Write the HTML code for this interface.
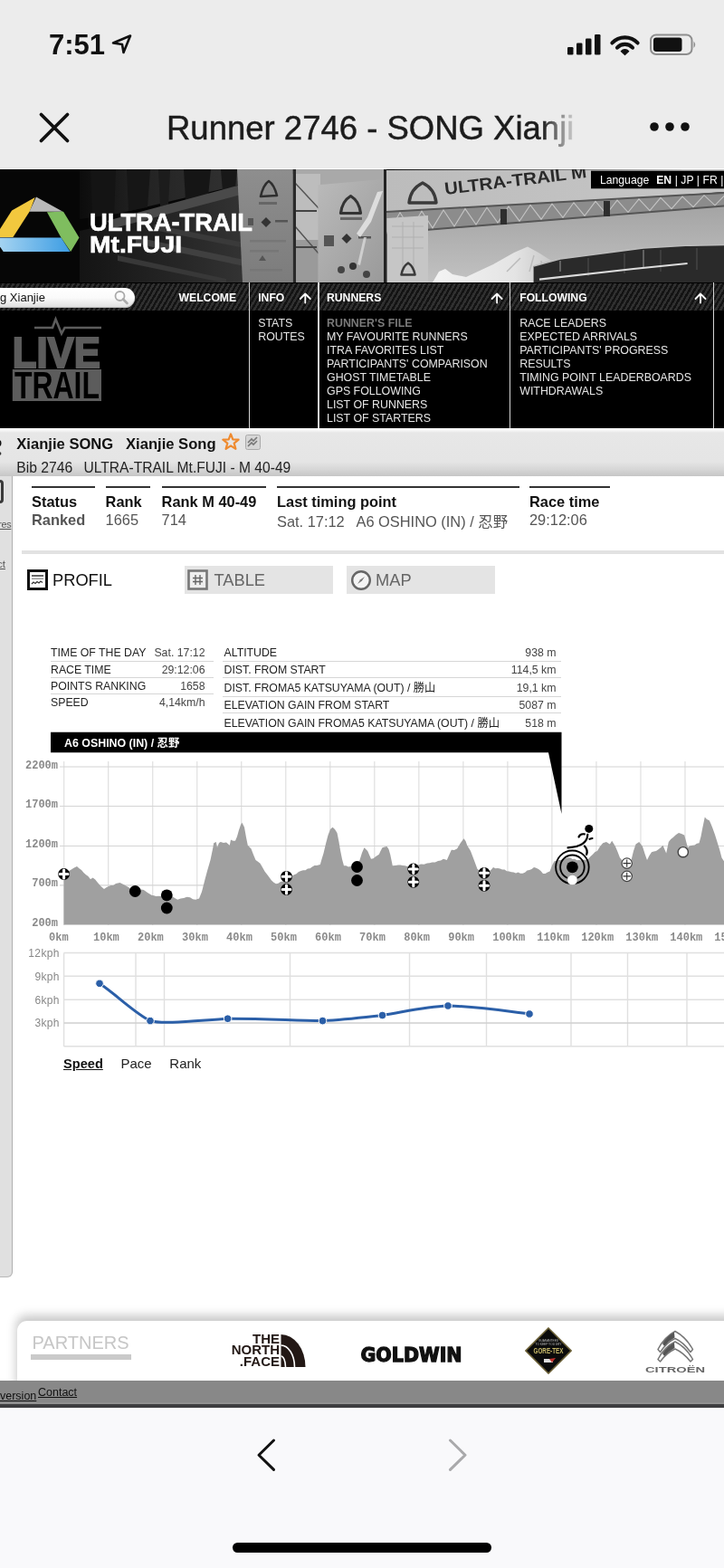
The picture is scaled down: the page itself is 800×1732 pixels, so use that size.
<!DOCTYPE html>
<html><head><meta charset="utf-8">
<style>
*{box-sizing:border-box}
html,body{margin:0;padding:0}
body{width:800px;height:1732px;overflow:hidden;position:relative;background:#ececec;font-family:"Liberation Sans",Arial,"Noto Sans CJK JP",sans-serif;color:#000}
.a{position:absolute;white-space:nowrap}
/* status bar */
#time{left:54px;top:32px;font-size:31px;font-weight:bold;letter-spacing:0px;color:#111}
#title{left:184px;top:121px;font-size:36.5px;color:#1c1c1c;-webkit-text-stroke:0.45px #1c1c1c;-webkit-mask-image:linear-gradient(90deg,#000 0,#000 415px,rgba(0,0,0,.25) 445px,rgba(0,0,0,0) 460px)}
/* web */
#web{position:absolute;left:0;top:187px;width:800px;height:1368px;background:#fff;overflow:hidden}
</style></head>
<body>
<!-- STATUS BAR -->
<div class="a" id="time">7:51</div>
<svg class="a" style="left:122px;top:36px" width="26" height="26" viewBox="0 0 26 26"><path d="M3 11.5 L22 3.5 L14.5 22 L13 13 Z" fill="none" stroke="#111" stroke-width="2.6" stroke-linejoin="round"/></svg>
<svg class="a" style="left:620px;top:30px" width="160" height="36" viewBox="620 30 160 36">
  <rect x="627" y="52" width="6.5" height="8.5" rx="1.3" fill="#111"/>
  <rect x="637" y="47.5" width="6.5" height="13" rx="1.3" fill="#111"/>
  <rect x="647" y="42.5" width="6.5" height="18" rx="1.3" fill="#111"/>
  <rect x="657" y="38" width="6.5" height="22.5" rx="1.3" fill="#111"/>
  <g fill="none" stroke="#111" stroke-width="4.2" stroke-linecap="round">
    <path d="M676.46 47.41 A19.2 19.2 0 0 1 704.54 47.41"/>
    <path d="M682.02 52.59 A11.6 11.6 0 0 1 698.98 52.59"/>
  </g>
  <path d="M690.5 60.5 L686.26 56.54 A5.8 5.8 0 0 1 694.74 56.54 Z" fill="#111" stroke="#111" stroke-width="1.2" stroke-linejoin="round"/>
  <rect x="719" y="38.5" width="45.5" height="21.5" rx="6" fill="none" stroke="#8e8e8e" stroke-width="2"/>
  <rect x="722" y="41.5" width="31.5" height="15.5" rx="3" fill="#111"/>
  <path d="M766.5 45.5 Q770 49.25 766.5 53 Z" fill="#8e8e8e"/>
</svg>
<!-- NAV -->
<svg class="a" style="left:40px;top:121px" width="40" height="40" viewBox="40 121 40 40"><path d="M45.5 126.5 L74.5 155.5 M74.5 126.5 L45.5 155.5" stroke="#111" stroke-width="3.8" stroke-linecap="round"/></svg>
<div class="a" id="title">Runner 2746 - SONG Xianji</div>
<svg class="a" style="left:710px;top:130px" width="60" height="20" viewBox="710 130 60 20"><circle cx="723" cy="140" r="4.8" fill="#111"/><circle cx="740" cy="140" r="4.8" fill="#111"/><circle cx="757" cy="140" r="4.8" fill="#111"/></svg>

<!-- WEB CONTENT BG -->
<div class="a" style="left:0;top:185.5px;width:800px;height:1368px;background:#fff"></div>
<!-- BANNER -->
<svg class="a" style="left:0;top:187px" width="800" height="126" viewBox="0 187 800 126">
  <defs>
    <linearGradient id="sky" x1="0" y1="0" x2="0" y2="1"><stop offset="0" stop-color="#a2a2a2"/><stop offset="1" stop-color="#c2c2c2"/></linearGradient>
    <linearGradient id="flag1" x1="0" y1="0" x2="0" y2="1"><stop offset="0" stop-color="#8e8e8e"/><stop offset="0.5" stop-color="#858585"/><stop offset="1" stop-color="#7c7c7c"/></linearGradient>
    <linearGradient id="flag2" x1="0" y1="0" x2="1" y2="1"><stop offset="0" stop-color="#bababa"/><stop offset="1" stop-color="#9a9a9a"/></linearGradient>
    <linearGradient id="arch" x1="0" y1="0" x2="1" y2="0"><stop offset="0" stop-color="#bcbcbc"/><stop offset="1" stop-color="#c6c6c6"/></linearGradient>
    <linearGradient id="skyL" x1="0" y1="0" x2="1" y2="0"><stop offset="0" stop-color="#0c0c0c"/><stop offset="0.35" stop-color="#222"/><stop offset="1" stop-color="#333"/></linearGradient>
    <linearGradient id="tent" x1="0" y1="0" x2="1" y2="0"><stop offset="0" stop-color="#141414"/><stop offset="0.6" stop-color="#262626"/><stop offset="1" stop-color="#333"/></linearGradient>
    <linearGradient id="fuji" x1="0" y1="0" x2="1" y2="0"><stop offset="0" stop-color="#f4f4f4"/><stop offset="0.65" stop-color="#e4e4e4"/><stop offset="1" stop-color="#c4c4c4"/></linearGradient>
    <linearGradient id="logoBlue" x1="0" y1="0" x2="1" y2="0"><stop offset="0" stop-color="#a4d3f1"/><stop offset="1" stop-color="#3d9de3"/></linearGradient>
  </defs>
  <rect x="0" y="187" width="800" height="126" fill="#060606"/>
  <!-- trees / dark textures -->
  <path d="M88 187 L270 187 L270 203 L130 236 L88 242 Z" fill="url(#skyL)"/>
  <path d="M100 187 L128 187 L126 236 L102 240 Z" fill="#141414"/>
  <path d="M140 187 L166 187 L163 229 L142 233 Z" fill="#161616"/>
  <path d="M203 187 L233 187 L230 216 L205 221 Z" fill="#151515"/>
  <path d="M244 187 L262 187 L260 208 L246 211 Z" fill="#181818"/>
  <path d="M175 187 L188 187 L186 226 L177 228 Z" fill="#1c1c1c"/>
  <!-- tent structure -->
  <path d="M88 312 L88 255 L130 246 L270 213 L270 312 Z" fill="url(#tent)"/>
  <path d="M118 244 L270 203 L270 214 L126 252 Z" fill="#4a4a4a"/>
  <path d="M150 262 L270 287 L270 294 L150 269 Z" fill="#404040"/>
  <path d="M170 248 L270 268 L270 274 L170 254 Z" fill="#3a3a3a"/>
  <path d="M130 282 L250 308 L250 313 L130 288 Z" fill="#383838"/>
  <!-- scaffold between flag1 and flag2 -->
  <rect x="322" y="187" width="105" height="30" fill="#a9a9a9"/><rect x="322" y="192" width="32" height="120" fill="#bdbdbd"/><rect x="326" y="265" width="26" height="47" fill="#9a9a9a"/>
  <path d="M326 202 L352 230 M326 250 L352 280" stroke="#555" stroke-width="1.5"/>
  <rect x="326" y="232" width="24" height="2" fill="#444"/><rect x="326" y="272" width="24" height="2" fill="#444"/>
  <!-- flag 1 -->
  <path d="M262 187 L323 187 L323 312 L268 312 Z" fill="url(#flag1)"/>
  <path d="M297 200 Q303 204 306 216 L288 217 Q291 204 297 200 Z" fill="none" stroke="#2e2e2e" stroke-width="2.6" stroke-linejoin="round"/>
  <rect x="286" y="223" width="20" height="3" fill="#666"/>
  <path d="M294 240 l5.5 5.5 l-5.5 5.5 l-5.5 -5.5 Z" fill="#333"/>
  <rect x="274" y="241" width="6" height="8" fill="#555"/>
  <rect x="304" y="243" width="14" height="2.5" fill="#555"/>
  <rect x="276" y="265" width="40" height="2.5" fill="#777"/>
  <rect x="276" y="276" width="32" height="2.5" fill="#777"/>
  <path d="M286 288 l4 -6 l4 6 Z" fill="#555"/>
  <rect x="276" y="297" width="36" height="2.5" fill="#777"/>
  <!-- pole 1 -->
  <rect x="323.5" y="187" width="3.5" height="126" fill="#2a2a2a"/>
  <!-- flag 2 -->
  <path d="M351.4 204.3 L424 198 L424 312 L351.4 312 Z" fill="url(#flag2)"/>
  <path d="M376.5 235.5 Q378.0 222.2 387.5 216.5 Q397.0 222.2 398.5 235.5 Z" fill="none" stroke="#333" stroke-width="3.2" stroke-linejoin="round"/>
  <rect x="376" y="240" width="24" height="3" fill="#666"/>
  <path d="M383 258 l5.5 5.5 l-5.5 5.5 l-5.5 -5.5 Z" fill="#333"/>
  <rect x="358" y="260" width="11" height="12" fill="#555"/>
  <rect x="396" y="261" width="14" height="2.5" fill="#555"/>
  <circle cx="377" cy="298" r="4" fill="#444"/><circle cx="390" cy="294" r="4" fill="#333"/><circle cx="405" cy="303" r="4" fill="#444"/>
  <path d="M417 212 L423 211 L410 245 L398 262 L394 258 L406 240 Z" fill="#e6e6e6" opacity="0.85"/>
  <path d="M395 292 L402 262 L405 262 L398 293 Z" fill="#dedede" opacity="0.75"/>
  <!-- pole 2 -->
  <rect x="424" y="187" width="3.5" height="126" fill="#222"/>
  <!-- sky -->
  <path d="M470 250 L800 222 L800 312 L470 312 Z" fill="url(#sky)"/>
  <!-- arch banner -->
  <path d="M427 188 L800 187 L800 212 L427 240 Z" fill="url(#arch)"/>
  <text x="492" y="215" transform="rotate(-6.9 492 215)" font-family="Liberation Sans" font-weight="bold" font-size="19" fill="#2a2a2a" textLength="158" lengthAdjust="spacingAndGlyphs">ULTRA-TRAIL M</text>
  <path d="M452.0 224.0 Q453.5 208.6 467.0 202.0 Q480.5 208.6 482.0 224.0 Z" fill="none" stroke="#3a3a3a" stroke-width="3.4" stroke-linejoin="round"/>
  <!-- truss -->
  <path d="M427 233.5 L800 212.5 L800 228 L427 258 Z" fill="#8c8c8c"/>
  <path d="M427 234 L800 213 M427 257.5 L800 227.5" stroke="#555" stroke-width="2"/>
  <path d="M430.0 255.8 L442.0 234.7 L454.0 253.8 L466.0 233.3 L478.0 251.9 L490.0 232.0 L502.0 250.0 L514.0 230.6 L526.0 248.0 L538.0 229.3 L550.0 246.1 L562.0 227.9 L574.0 244.2 L586.0 226.5 L598.0 242.2 L610.0 225.2 L622.0 240.3 L634.0 223.8 L646.0 238.4 L658.0 222.5 L670.0 236.5 L682.0 221.1 L694.0 234.5 L706.0 219.8 L718.0 232.6 L730.0 218.4 L742.0 230.7 L754.0 217.1 L766.0 228.7 L778.0 215.7 L790.0 226.8 L802.0 214.4" fill="none" stroke="#c4c4c4" stroke-width="1.1"/>
  <rect x="553" y="231" width="7" height="17" fill="#2e2e2e"/>
  <rect x="667" y="222" width="7" height="17" fill="#2e2e2e"/>
  <!-- flag 3 -->
  <path d="M427.5 241 L473 238 L473 312 L427.5 312 Z" fill="#c6c6c6"/>
  <path d="M433 250 L468 250 M433 262 L468 262 M433 274 L468 274 M445 245 L445 300 M457 245 L457 300" stroke="#b0b0b0" stroke-width="1"/>
  <path d="M443.5 303.5 Q445.0 294.4 451.0 290.5 Q457.0 294.4 458.5 303.5 Z" fill="none" stroke="#3a3a3a" stroke-width="2.6" stroke-linejoin="round"/>
  <!-- Fuji -->
  <path d="M478 312 L485 300 L492 297 L500 303 L515 306 L545 292 L568 279 L583 272.6 L595 279 L606 286 L617 291.7 L617 312 Z" fill="url(#fuji)"/>
  <path d="M560 300 L575 285 M585 300 L590 282 M600 300 L598 288" stroke="#bbb" stroke-width="1.5"/>
  <!-- building -->
  <path d="M589.6 294 L619 286 L711 274 L757.5 271.3 L800 270.5 L800 313 L589.6 313 Z" fill="#2a2a2a"/>
  <path d="M589.6 294 L619 286 L711 274 L757.5 271.3 L800 270.5" stroke="#bdbdbd" stroke-width="1.4" fill="none"/><path d="M619 288 L619 300 M711 276 L711 296" stroke="#888" stroke-width="1.2"/>
  <path d="M650 285 V305 M690 280 V302 M730 276 V300 M770 274 V298" stroke="#444" stroke-width="1.5"/>
  <path d="M596 308.7 L700 297 L759.6 291" stroke="#dcdcdc" stroke-width="2.2" fill="none"/>
  <!-- logo -->
  <path d="M38.7 218.1 L13.1 232.5 L0 253.1 L0 262 L14.4 262 L33.1 233.1 Z" fill="#f2c83e"/>
  <path d="M40 217.5 L69.4 233.8 L32.5 233.8 Z" fill="#b9b9b9"/>
  <path d="M51.9 234.2 L70 233.8 L87.5 262.5 L78.1 278.1 L67.5 262.5 Z" fill="#7fbd5f"/>
  <path d="M0 262.5 L67.5 262.5 L77.5 278.1 L3.7 278.1 L0 272.5 Z" fill="url(#logoBlue)"/>
  <text x="99" y="254.5" font-family="Liberation Sans" font-weight="bold" font-size="28.5" fill="#fff" stroke="#fff" stroke-width="0.6" textLength="180" lengthAdjust="spacingAndGlyphs">ULTRA-TRAIL</text>
  <text x="99" y="278.7" font-family="Liberation Sans" font-weight="bold" font-size="26.5" fill="#fff" stroke="#fff" stroke-width="0.6" textLength="102" lengthAdjust="spacingAndGlyphs">Mt.FUJI</text>
  <!-- language -->
  <rect x="653" y="188.7" width="147" height="19.6" fill="#000"/>
  <text x="663" y="203" font-family="Liberation Sans" font-size="12.2" fill="#fff" word-spacing="0.1">Language <tspan font-weight="bold" dx="4.5">EN</tspan> | JP | FR |</text>
</svg>
<!-- MENU -->
<div class="a" style="left:0;top:312px;width:800px;height:161px;background:#000"></div>
<div class="a" style="left:0;top:313px;width:800px;height:30px;background:repeating-linear-gradient(-60deg,#131313 0,#131313 2.4px,#303030 2.4px,#303030 4.8px)"></div>
<div class="a" style="left:-20px;top:318px;width:169px;height:22px;border-radius:11px;background:linear-gradient(#fff 0,#fafafa 50%,#dedede 100%);box-shadow:inset 0 -1px 1px #bbb"></div>
<div class="a" style="left:0;top:321px;font-size:13px;color:#111">g Xianjie</div>
<svg class="a" style="left:124px;top:319px" width="22" height="20" viewBox="0 0 22 20"><circle cx="8.5" cy="8" r="5" fill="none" stroke="#aaa" stroke-width="1.8"/><path d="M12 11.5 L16.5 16" stroke="#aaa" stroke-width="2.6" stroke-linecap="round"/></svg>
<div class="a" style="left:197.5px;top:321.5px;font-size:12.2px;font-weight:bold;color:#fff">WELCOME</div>
<!-- separators -->
<div class="a" style="left:275px;top:312px;width:1.4px;height:161px;background:#d6d6d6"></div>
<div class="a" style="left:351.2px;top:312px;width:1.4px;height:161px;background:#d6d6d6"></div>
<div class="a" style="left:563px;top:312px;width:1.4px;height:161px;background:#d6d6d6"></div>
<div class="a" style="left:788px;top:312px;width:1.4px;height:161px;background:#d6d6d6"></div>
<!-- headers -->
<div class="a" style="left:285.2px;top:321.5px;font-size:12.2px;font-weight:bold;color:#fff">INFO</div>
<div class="a" style="left:361px;top:321.5px;font-size:12.2px;font-weight:bold;color:#fff">RUNNERS</div>
<div class="a" style="left:574.2px;top:321.5px;font-size:12.2px;font-weight:bold;color:#fff">FOLLOWING</div>
<svg class="a" style="left:0;top:312px" width="800" height="30" viewBox="0 312 800 30">
  <g fill="none" stroke="#fff" stroke-width="1.8" stroke-linecap="round" stroke-linejoin="round">
    <path d="M337.3 334.5 V324.5 M331.8 330 L337.3 324.5 L342.8 330"/>
    <path d="M549.1 334.5 V324.5 M543.6 330 L549.1 324.5 L554.6 330"/>
    <path d="M774 334.5 V324.5 M768.5 330 L774 324.5 L779.5 330"/>
  </g>
</svg>
<!-- lists -->
<div class="a" style="left:285.2px;top:349.5px;font-size:12.4px;line-height:15px;color:#e6e6e6">STATS<br>ROUTES</div>
<div class="a" style="left:361px;top:349.5px;font-size:12.4px;line-height:15px;color:#e6e6e6"><b style="color:#7a7a7a">RUNNER'S FILE</b><br>MY FAVOURITE RUNNERS<br>ITRA FAVORITES LIST<br>PARTICIPANTS' COMPARISON<br>GHOST TIMETABLE<br>GPS FOLLOWING<br>LIST OF RUNNERS<br>LIST OF STARTERS</div>
<div class="a" style="left:574.2px;top:349.5px;font-size:12.4px;line-height:15px;color:#e6e6e6">RACE LEADERS<br>EXPECTED ARRIVALS<br>PARTICIPANTS' PROGRESS<br>RESULTS<br>TIMING POINT LEADERBOARDS<br>WITHDRAWALS</div>
<!-- LIVE TRAIL logo -->
<svg class="a" style="left:0;top:345px" width="130" height="110" viewBox="0 345 130 110">
  <path d="M38 362 H58 L61.5 352.5 L68 368.5 L71.5 362 H112" fill="none" stroke="#5c5c5c" stroke-width="2.6"/>
  <text x="13.8" y="405.8" font-family="Liberation Sans" font-weight="bold" font-size="48" fill="#5c5c5c" stroke="#5c5c5c" stroke-width="2.2" textLength="97" lengthAdjust="spacingAndGlyphs">LIVE</text>
  <rect x="13.8" y="408" width="98.2" height="35" fill="#5c5c5c"/>
  <text x="16" y="440" font-family="Liberation Sans" font-weight="bold" font-size="42" fill="#000" textLength="94" lengthAdjust="spacingAndGlyphs">TRAIL</text>
</svg>
<!-- RUNNER HEADER -->
<div class="a" style="left:0;top:473px;width:800px;height:53px;background:linear-gradient(#fff 0,#fafafa 2px,#e7e7e7 5px,#e5e5e5 70%,#d6d6d6 86%,#c6c6c6 100%)"></div>
<svg class="a" style="left:0;top:480px" width="6" height="26" viewBox="0 480 6 26"><ellipse cx="-0.3" cy="489.5" rx="1.8" ry="3.2" fill="#111"/><circle cx="-0.5" cy="501" r="1.9" fill="#333"/></svg>
<div class="a" style="left:18.3px;top:480.5px;font-size:16.6px;font-weight:bold;color:#111">Xianjie SONG</div>
<div class="a" style="left:139px;top:480.5px;font-size:16.6px;font-weight:bold;color:#111">Xianjie Song</div>
<svg class="a" style="left:244px;top:477px" width="22" height="22" viewBox="0 0 22 22"><path d="M11 2.5 L13.3 8.4 L19.6 8.7 L14.7 12.6 L16.4 18.8 L11 15.3 L5.6 18.8 L7.3 12.6 L2.4 8.7 L8.7 8.4 Z" fill="none" stroke="#ef8a2e" stroke-width="2.2" stroke-linejoin="round"/></svg>
<svg class="a" style="left:271px;top:480px" width="17" height="17" viewBox="0 0 17 17"><rect x="0.5" y="0.5" width="16" height="16" rx="2" fill="#d6d6d6" stroke="#aaa"/><path d="M3 9 l4 -4 l2 2 l4 -4 M3 13 l4 -4 l2 2 l4 -4" stroke="#777" stroke-width="1.6" fill="none"/></svg>
<div class="a" style="left:18.3px;top:507.8px;font-size:15.7px;color:#222">Bib 2746</div>
<div class="a" style="left:92.5px;top:507.8px;font-size:15.6px;color:#222">ULTRA-TRAIL Mt.FUJI - M 40-49</div>
<!-- left sidebar strip -->
<div class="a" style="left:0;top:526px;width:14.2px;height:885px;background:#e0e0e0;border-right:1.6px solid #b0b0b0;border-bottom-right-radius:6px;border-bottom:1.6px solid #b8b8b8"></div>
<div class="a" style="left:-8px;top:529.7px;width:11.5px;height:26px;border:3px solid #3a3a3a;border-radius:4px"></div>
<div class="a" style="left:-1.8px;top:572.5px;font-size:10.8px;letter-spacing:-0.3px;color:#555;text-decoration:underline">res</div>
<div class="a" style="left:-3px;top:616.7px;font-size:11.5px;color:#555;text-decoration:underline">ct</div>
<!-- STATS -->
<div class="a" style="left:35px;top:537px;width:69.5px;height:2.2px;background:#333"></div>
<div class="a" style="left:116.6px;top:537px;width:49.5px;height:2.2px;background:#333"></div>
<div class="a" style="left:178.6px;top:537px;width:115px;height:2.2px;background:#333"></div>
<div class="a" style="left:306px;top:537px;width:268px;height:2.2px;background:#333"></div>
<div class="a" style="left:585px;top:537px;width:89px;height:2.2px;background:#333"></div>
<div class="a" style="left:35px;top:545.3px;font-size:16.4px;line-height:19px;font-weight:bold;color:#111">Status</div>
<div class="a" style="left:35px;top:565.3px;font-size:16.4px;line-height:19px;font-weight:bold;color:#555">Ranked</div>
<div class="a" style="left:116.6px;top:545.3px;font-size:16.4px;line-height:19px;font-weight:bold;color:#111">Rank</div>
<div class="a" style="left:116.6px;top:565.3px;font-size:16.4px;line-height:19px;color:#555">1665</div>
<div class="a" style="left:178.6px;top:545.3px;font-size:16.4px;line-height:19px;font-weight:bold;color:#111">Rank M 40-49</div>
<div class="a" style="left:178.6px;top:565.3px;font-size:16.4px;line-height:19px;color:#555">714</div>
<div class="a" style="left:306px;top:545.3px;font-size:16.4px;line-height:19px;font-weight:bold;color:#111">Last timing point</div>
<div class="a" style="left:306px;top:567.3px;font-size:16.4px;line-height:19px;color:#555">Sat. 17:12 &nbsp; A6 OSHINO (IN) / 忍野</div>
<div class="a" style="left:585px;top:545.3px;font-size:16.4px;line-height:19px;font-weight:bold;color:#111">Race time</div>
<div class="a" style="left:585px;top:565.3px;font-size:16.4px;line-height:19px;color:#555">29:12:06</div>
<div class="a" style="left:24px;top:607.5px;width:776px;height:4.5px;background:#e2e2e2"></div>
<!-- TABS -->
<svg class="a" style="left:30px;top:628.5px" width="23" height="23" viewBox="0 0 23 23"><rect x="1.5" y="1.5" width="20" height="20" fill="#fff" stroke="#111" stroke-width="3"/><rect x="5" y="6" width="13" height="2" fill="#666"/><rect x="5" y="9.5" width="13" height="1.5" fill="#999"/><path d="M5 16 l2 -2 l2 1.5 l2 -2 l2 1.5 l2 -2 l2 1.5" stroke="#333" stroke-width="1.3" fill="none"/></svg>
<div class="a" style="left:58px;top:630px;font-size:18.3px;color:#111">PROFIL</div>
<div class="a" style="left:203.7px;top:624.7px;width:164px;height:31.3px;background:#e4e4e4"></div>
<svg class="a" style="left:207px;top:629px" width="23" height="23" viewBox="0 0 23 23"><rect x="1.5" y="1.5" width="20" height="20" fill="#eee" stroke="#777" stroke-width="2.6"/><path d="M9 6 V17 M14 6 V17 M6 9.5 H17 M6 13.5 H17" stroke="#666" stroke-width="1.4"/></svg>
<div class="a" style="left:236.5px;top:630px;font-size:18.3px;color:#666">TABLE</div>
<div class="a" style="left:382.5px;top:624.7px;width:164.5px;height:31.3px;background:#e4e4e4"></div>
<svg class="a" style="left:386.5px;top:629px" width="24" height="24" viewBox="0 0 24 24"><circle cx="12" cy="12" r="9.8" fill="#f4f4f4" stroke="#666" stroke-width="2.4"/><path d="M16 8 L12.8 12.8 L8 16 L11.2 11.2 Z" fill="#777"/></svg>
<div class="a" style="left:415px;top:630px;font-size:18.3px;color:#666">MAP</div>
<!-- DATA TABLE -->
<div class="a" style="left:56px;top:712px;width:180px;font-size:12.3px;color:#222;line-height:18px">
 <div style="display:flex;justify-content:space-between;padding-right:9.5px;border-bottom:1.5px solid #d6d6d6;height:19px">TIME OF THE DAY<span style="color:#444">Sat. 17:12</span></div>
 <div style="display:flex;justify-content:space-between;padding-right:9.5px;border-bottom:1.5px solid #d6d6d6;height:18px">RACE TIME<span style="color:#444">29:12:06</span></div>
 <div style="display:flex;justify-content:space-between;padding-right:9.5px;border-bottom:1.5px solid #d6d6d6;height:18px">POINTS RANKING<span style="color:#444">1658</span></div>
 <div style="display:flex;justify-content:space-between;padding-right:9.5px;height:18px">SPEED<span style="color:#444">4,14km/h</span></div>
</div>
<div class="a" style="left:246px;top:712px;width:374px;font-size:12.3px;color:#222;line-height:18px">
 <div style="display:flex;justify-content:space-between;padding:0 5.5px 0 1.5px;border-bottom:1.5px solid #d6d6d6;height:19px">ALTITUDE<span style="color:#444">938 m</span></div>
 <div style="display:flex;justify-content:space-between;padding:0 5.5px 0 1.5px;border-bottom:1.5px solid #d6d6d6;height:18px">DIST. FROM START<span style="color:#444">114,5 km</span></div>
 <div style="display:flex;justify-content:space-between;padding:2px 5.5px 0 1.5px;border-bottom:1.5px solid #d6d6d6;height:20.7px">DIST. FROMA5 KATSUYAMA (OUT) / 勝山<span style="color:#444">19,1 km</span></div>
 <div style="display:flex;justify-content:space-between;padding:0 5.5px 0 1.5px;border-bottom:1.5px solid #d6d6d6;height:18.8px">ELEVATION GAIN FROM START<span style="color:#444">5087 m</span></div>
 <div style="display:flex;justify-content:space-between;padding:2px 5.5px 0 1.5px;height:20px">ELEVATION GAIN FROMA5 KATSUYAMA (OUT) / 勝山<span style="color:#444">518 m</span></div>
</div>
<!-- ELEVATION CHART -->
<svg class="a" style="left:0;top:805px" width="800" height="240" viewBox="0 805 800 240">
<path d="M70.70 841 V1022" stroke="#dedede" stroke-width="1.15"/><path d="M119.72 841 V1022" stroke="#dedede" stroke-width="1.15"/><path d="M168.74 841 V1022" stroke="#dedede" stroke-width="1.15"/><path d="M217.76 841 V1022" stroke="#dedede" stroke-width="1.15"/><path d="M266.78 841 V1022" stroke="#dedede" stroke-width="1.15"/><path d="M315.80 841 V1022" stroke="#dedede" stroke-width="1.15"/><path d="M364.82 841 V1022" stroke="#dedede" stroke-width="1.15"/><path d="M413.84 841 V1022" stroke="#dedede" stroke-width="1.15"/><path d="M462.86 841 V1022" stroke="#dedede" stroke-width="1.15"/><path d="M511.88 841 V1022" stroke="#dedede" stroke-width="1.15"/><path d="M560.90 841 V1022" stroke="#dedede" stroke-width="1.15"/><path d="M609.92 841 V1022" stroke="#dedede" stroke-width="1.15"/><path d="M658.94 841 V1022" stroke="#dedede" stroke-width="1.15"/><path d="M707.96 841 V1022" stroke="#dedede" stroke-width="1.15"/><path d="M756.98 841 V1022" stroke="#dedede" stroke-width="1.15"/><path d="M66 847 H800" stroke="#d4d4d4" stroke-width="1.15"/><path d="M66 890.5 H800" stroke="#d4d4d4" stroke-width="1.15"/><path d="M66 934.5 H800" stroke="#d4d4d4" stroke-width="1.15"/><path d="M66 977.8 H800" stroke="#d4d4d4" stroke-width="1.15"/>
<path d="M70.5 1021.5 L70.5 965.0 L73.0 963.2 L75.5 962.4 L78.0 961.0 L81.5 958.8 L85.0 957.0 L87.5 959.2 L90.0 961.0 L92.5 963.9 L95.0 966.2 L97.5 968.0 L100.0 971.2 L102.5 969.5 L105.2 971.4 L108.0 975.0 L111.5 979.1 L115.0 982.0 L117.5 980.2 L120.0 978.9 L122.5 978.0 L125.2 977.9 L128.0 976.0 L132.5 975.0 L135.0 976.2 L137.5 977.5 L142.0 980.0 L144.8 982.1 L147.5 983.0 L150.3 983.0 L153.1 983.3 L155.9 982.4 L158.8 983.0 L163.0 986.0 L167.5 988.8 L170.0 989.3 L172.5 990.0 L175.0 989.7 L177.5 990.0 L180.0 990.4 L182.5 990.3 L185.0 989.2 L187.5 990.5 L190.0 990.0 L193.1 992.0 L196.2 993.8 L199.6 992.5 L203.0 992.0 L206.5 990.8 L210.0 991.2 L213.1 993.2 L216.2 993.8 L220.0 992.5 L223.0 985.0 L226.2 972.5 L229.0 962.0 L232.5 950.0 L235.0 938.0 L236.2 931.2 L238.8 930.0 L240.0 936.0 L242.0 931.0 L243.8 930.0 L247.0 931.0 L250.0 930.5 L253.8 933.8 L255.0 927.5 L257.5 928.8 L260.0 928.8 L262.0 924.0 L263.8 917.5 L266.0 911.0 L267.5 908.8 L270.0 913.8 L272.0 925.0 L273.8 933.8 L277.5 937.5 L280.0 944.0 L282.5 950.0 L285.0 951.8 L287.5 953.8 L290.0 958.0 L292.5 962.5 L296.0 967.0 L300.0 972.5 L302.5 974.8 L305.0 976.2 L307.5 975.8 L310.0 974.0 L312.5 973.6 L315.0 972.5 L317.5 971.5 L320.0 969.0 L322.5 967.4 L325.0 966.2 L327.5 965.2 L330.0 963.0 L332.5 962.0 L335.0 961.2 L337.5 961.2 L340.0 959.5 L342.5 959.2 L345.0 957.5 L347.5 956.0 L350.0 956.0 L353.8 955.0 L355.5 949.0 L357.5 942.5 L360.0 932.0 L362.5 922.5 L365.0 916.0 L367.5 913.8 L370.0 916.0 L372.5 920.0 L374.5 930.0 L376.2 940.0 L378.0 949.0 L380.0 956.2 L382.5 956.2 L385.0 957.5 L387.5 957.0 L390.0 957.5 L394.0 955.0 L397.5 950.0 L400.0 942.0 L402.5 936.2 L406.2 940.0 L410.0 948.8 L412.5 948.3 L415.0 946.2 L418.8 943.8 L420.5 940.0 L422.5 936.2 L425.0 935.5 L427.5 935.0 L429.5 938.0 L431.2 943.8 L433.8 956.2 L436.9 956.1 L440.0 955.5 L442.5 955.4 L445.0 956.0 L447.5 956.2 L450.0 956.9 L452.5 957.6 L455.0 958.8 L457.5 957.5 L460.0 956.0 L462.5 955.4 L465.0 954.5 L468.5 954.7 L472.0 953.5 L474.8 953.3 L477.5 952.5 L480.8 952.5 L484.0 951.0 L487.0 950.5 L490.0 948.8 L493.8 950.0 L496.0 945.0 L498.8 938.8 L501.9 939.0 L505.0 937.5 L508.8 931.2 L512.5 926.2 L514.5 929.0 L516.2 933.8 L520.0 940.0 L523.8 950.0 L527.5 960.0 L530.0 961.6 L532.5 962.5 L535.0 961.9 L537.5 963.1 L540.0 962.5 L542.5 961.1 L545.0 958.0 L547.5 959.2 L550.0 959.1 L552.5 959.5 L555.0 960.6 L557.5 960.5 L560.0 962.3 L562.5 962.5 L565.0 963.3 L567.5 963.4 L570.0 964.5 L572.5 963.5 L575.0 964.8 L577.5 964.8 L580.0 963.8 L582.5 961.6 L585.0 961.0 L587.5 960.0 L590.0 958.0 L592.5 958.8 L595.0 960.0 L597.5 961.9 L600.0 965.0 L602.5 965.0 L605.0 963.4 L607.5 962.5 L610.0 956.0 L612.5 951.2 L615.0 951.1 L617.5 950.0 L620.0 950.0 L622.5 947.9 L625.0 948.3 L627.5 947.5 L630.0 947.2 L632.5 948.9 L635.0 948.7 L637.5 950.2 L640.0 950.0 L642.5 950.6 L645.0 949.4 L647.5 950.0 L650.0 948.8 L652.5 945.9 L655.0 943.8 L657.5 941.1 L660.0 940.0 L663.0 935.0 L666.2 931.2 L670.0 930.0 L673.8 932.5 L676.2 928.8 L680.0 935.0 L682.5 941.0 L685.0 947.5 L687.5 950.2 L690.0 952.5 L692.5 950.8 L695.0 950.3 L697.5 950.0 L700.0 940.0 L702.5 932.5 L706.2 930.0 L710.0 935.0 L712.5 943.0 L715.0 950.0 L717.5 945.0 L720.0 941.2 L722.5 940.5 L725.0 940.0 L727.5 938.3 L730.0 936.2 L732.5 933.8 L736.2 942.5 L738.8 930.0 L741.2 926.9 L743.8 925.0 L747.0 922.0 L750.0 920.0 L753.0 921.0 L756.2 922.5 L758.0 929.0 L760.0 936.2 L762.5 934.2 L765.0 933.8 L767.5 933.6 L770.0 931.7 L772.5 931.2 L774.5 924.0 L776.2 915.0 L778.8 902.5 L781.0 905.0 L783.8 906.2 L785.5 910.0 L787.5 915.0 L790.0 922.0 L792.5 930.0 L795.0 938.0 L797.5 947.5 L800.0 951.2 L800 1021.5 Z" fill="#a0a0a0"/>
<path d="M56 808.8 H620.5 V899 L606 831.2 H56 Z" fill="#000"/>
<text x="71" y="824.5" font-family="Liberation Sans,Noto Sans CJK JP,sans-serif" font-weight="bold" font-size="12.4" fill="#fff">A6 OSHINO (IN) / 忍野</text>
<g font-family="Liberation Mono,monospace" font-weight="bold" font-size="12" fill="#8a8a8a"><text x="64" y="848.5" text-anchor="end">2200m</text><text x="64" y="892.0" text-anchor="end">1700m</text><text x="64" y="936.0" text-anchor="end">1200m</text><text x="64" y="979.3" text-anchor="end">700m</text><text x="64" y="1022.5" text-anchor="end">200m</text><text x="54.0" y="1039">0km</text><text x="103.0" y="1039">10km</text><text x="152.0" y="1039">20km</text><text x="201.1" y="1039">30km</text><text x="250.1" y="1039">40km</text><text x="299.1" y="1039">50km</text><text x="348.1" y="1039">60km</text><text x="397.1" y="1039">70km</text><text x="446.2" y="1039">80km</text><text x="495.2" y="1039">90km</text><text x="544.2" y="1039">100km</text><text x="593.2" y="1039">110km</text><text x="642.2" y="1039">120km</text><text x="691.3" y="1039">130km</text><text x="740.3" y="1039">140km</text><text x="789.3" y="1039">150km</text></g>
<g><circle cx="70.6" cy="965.5" r="6.4" fill="#000"/><path d="M66.19999999999999 965.5 H75.0 M70.6 961.1 V969.9" stroke="#fff" stroke-width="3.1" stroke-linecap="round"/></g><circle cx="149.3" cy="984.5" r="6.4" fill="#000"/><circle cx="184.3" cy="988.8" r="6.4" fill="#000"/><circle cx="184.3" cy="1003" r="6.4" fill="#000"/><g><circle cx="316.5" cy="968.3" r="6.4" fill="#000"/><path d="M312.1 968.3 H320.9 M316.5 963.9 V972.6999999999999" stroke="#fff" stroke-width="3.1" stroke-linecap="round"/></g><g><circle cx="316.5" cy="982.5" r="6.4" fill="#000"/><path d="M312.1 982.5 H320.9 M316.5 978.1 V986.9" stroke="#fff" stroke-width="3.1" stroke-linecap="round"/></g><circle cx="394.5" cy="957.5" r="6.4" fill="#000"/><circle cx="394.5" cy="972.5" r="6.4" fill="#000"/><g><circle cx="456.8" cy="960" r="6.4" fill="#000"/><path d="M452.40000000000003 960 H461.2 M456.8 955.6 V964.4" stroke="#fff" stroke-width="3.1" stroke-linecap="round"/></g><g><circle cx="456.8" cy="974.3" r="6.4" fill="#000"/><path d="M452.40000000000003 974.3 H461.2 M456.8 969.9 V978.6999999999999" stroke="#fff" stroke-width="3.1" stroke-linecap="round"/></g><g><circle cx="535" cy="964.3" r="6.4" fill="#000"/><path d="M530.6 964.3 H539.4 M535 959.9 V968.6999999999999" stroke="#fff" stroke-width="3.1" stroke-linecap="round"/></g><g><circle cx="535" cy="978.3" r="6.4" fill="#000"/><path d="M530.6 978.3 H539.4 M535 973.9 V982.6999999999999" stroke="#fff" stroke-width="3.1" stroke-linecap="round"/></g><g><circle cx="692.7" cy="953.6" r="5.7" fill="#fff" stroke="#444" stroke-width="1.2"/><path d="M688.5 953.6 H696.9000000000001 M692.7 949.4 V957.8000000000001" stroke="#333" stroke-width="1.1"/></g><g><circle cx="692.7" cy="967.9" r="5.7" fill="#fff" stroke="#444" stroke-width="1.2"/><path d="M688.5 967.9 H696.9000000000001 M692.7 963.6999999999999 V972.1" stroke="#333" stroke-width="1.1"/></g><circle cx="754.8" cy="941.2" r="5.6" fill="#fff" stroke="#444" stroke-width="1.4"/>
<g>
<circle cx="632.4" cy="957.8" r="18.3" fill="none" stroke="#000" stroke-width="1.8"/>
<circle cx="632.4" cy="957.8" r="13.3" fill="none" stroke="#000" stroke-width="1.8"/>
<circle cx="632.4" cy="957.8" r="6.4" fill="#000"/>
<circle cx="632.4" cy="972" r="5.6" fill="#fff" stroke="#999" stroke-width="0.6"/>
<circle cx="650.8" cy="915.4" r="4.5" fill="#000"/>
<g fill="none" stroke="#000" stroke-width="2.2" stroke-linecap="round">
<path d="M649.3 921.8 Q649 935 627.5 936.4"/>
<path d="M639.5 924.5 Q641 920.5 645.9 921.4"/>
<path d="M651.5 926.8 L654.5 926"/>
<path d="M645.9 934.5 Q650 939 648.1 943.9"/>
</g>
</g>
</svg>
<!-- SPEED CHART -->
<svg class="a" style="left:0;top:1040px" width="800" height="125" viewBox="0 1040 800 125">
  <g stroke="#e0e0e0" stroke-width="1.4">
    <path d="M70.6 1052.5 V1156"/>
    <path d="M150 1052.5 V1156 M181.5 1052.5 V1156 M320.5 1052.5 V1156 M452.5 1052.5 V1156 M537.5 1052.5 V1156 M631 1052.5 V1156 M693.5 1052.5 V1156 M759 1052.5 V1156"/>
    <path d="M70.6 1052.5 H800 M70.6 1078.3 H800 M70.6 1104.2 H800 M70.6 1155.8 H800"/>
  </g>
  <path d="M70.6 1130 H800" stroke="#cfcfcf" stroke-width="1.4"/>
  <g font-family="Liberation Sans,sans-serif" font-size="12" fill="#888" text-anchor="end" letter-spacing="0.35">
    <text x="65.8" y="1057">12kph</text><text x="65.8" y="1082.6">9kph</text><text x="65.8" y="1108.5">6kph</text><text x="65.8" y="1134.3">3kph</text>
  </g>
  <path d="M110 1086.3 C130 1100 150 1120 166 1127.5 C180 1132 220 1127 251.6 1125.2 C290 1125 320 1127 356.5 1127.6 C380 1126.5 400 1124 422.5 1121.5 C450 1117 470 1112 495 1111 C530 1112 560 1117 585 1120" fill="none" stroke="#2b5fa8" stroke-width="3"/>
  <g fill="#2b5fa8" stroke="#fff" stroke-width="1">
    <circle cx="110" cy="1086.3" r="4.3"/><circle cx="166" cy="1127.6" r="4.3"/><circle cx="251.6" cy="1125.2" r="4.3"/><circle cx="356.5" cy="1127.6" r="4.3"/><circle cx="422.5" cy="1121.5" r="4.3"/><circle cx="495" cy="1111" r="4.3"/><circle cx="585" cy="1120" r="4.3"/>
  </g>
</svg>
<div class="a" style="left:70px;top:1166.5px;font-size:14.6px;font-weight:bold;color:#111;text-decoration:underline">Speed</div>
<div class="a" style="left:133.5px;top:1166px;font-size:15px;color:#222">Pace</div>
<div class="a" style="left:187.3px;top:1166px;font-size:15px;color:#222">Rank</div>
<!-- PARTNERS -->
<div class="a" style="left:18.5px;top:1459px;width:800px;height:80px;background:#fff;border-top-left-radius:11px;box-shadow:-1px -6px 11px rgba(0,0,0,.22)"></div>
<div class="a" style="left:35.5px;top:1471.8px;font-size:20px;color:#c6c6c6">PARTNERS</div>
<div class="a" style="left:34.3px;top:1496.3px;width:111.2px;height:5.8px;background:#cacaca"></div>
<!-- TNF -->
<div class="a" style="left:240px;top:1472.5px;width:69px;font-family:'Liberation Sans',sans-serif;font-weight:bold;font-size:15px;line-height:12.8px;letter-spacing:0px;color:#231815;text-align:right">THE<br>NORTH<br>.FACE</div>
<svg class="a" style="left:309px;top:1472px" width="30" height="40" viewBox="0 0 30 40"><path d="M1.5 2 A27 36 0 0 1 28.5 38 H1.5 Z" fill="#231815"/><path d="M1.5 14 A15 24 0 0 1 16.5 38 M1.5 26 A5 12 0 0 1 6.5 38" fill="none" stroke="#fff" stroke-width="1.6"/></svg>
<!-- GOLDWIN -->
<svg class="a" style="left:396px;top:1484px" width="120" height="24" viewBox="0 0 120 24"><text x="2.5" y="20" font-family="DejaVu Sans,sans-serif" font-weight="bold" font-size="21" fill="#111" stroke="#111" stroke-width="1.3" textLength="112" lengthAdjust="spacingAndGlyphs">GOLDWIN</text></svg>
<!-- GORE-TEX -->
<svg class="a" style="left:580px;top:1466px" width="52" height="52" viewBox="580 1466 52 52">
  <path d="M606 1467 L631 1492 L606 1517 L581 1492 Z" fill="#0b0b0b" stroke="#6a5f35" stroke-width="1.6"/>
  <text x="606" y="1482" font-family="Liberation Sans" font-size="3.2" fill="#bbb" text-anchor="middle">GUARANTEED</text>
  <text x="606" y="1486" font-family="Liberation Sans" font-size="3.2" fill="#bbb" text-anchor="middle">TO KEEP YOU DRY</text>
  <text x="606" y="1495.3" font-family="Liberation Sans" font-weight="bold" font-size="9" fill="#c9bb6a" text-anchor="middle" textLength="33" lengthAdjust="spacingAndGlyphs">GORE-TEX</text>
  <rect x="601" y="1501" width="10" height="4" fill="#ddd"/><path d="M607 1501 L614 1500 L610 1505 Z" fill="#c0302c"/>
</svg>
<!-- CITROEN -->
<svg class="a" style="left:710px;top:1466px" width="75" height="54" viewBox="710 1466 75 54">
  <g fill="none" stroke="#777" stroke-width="1.5" stroke-linejoin="round">
    <path d="M727 1490.5 Q734 1477 746 1470.5 Q758 1477 765.5 1490.5 L763 1493.5 Q755 1482.5 746 1478.5 Q737 1482.5 729.5 1493.5 Z"/>
    <path d="M727 1501.5 Q734 1488 746 1482 Q758 1488 765.5 1501.5 L763 1504 Q755 1494 746 1490 Q737 1494 729.5 1504 Z"/>
  </g>
  <path d="M732 1484 Q737 1476 745 1471.5 L745.5 1477.5 Q739 1481 734 1487 Z M732 1495 Q737 1487.5 745 1483 L745.5 1489 Q739 1492.5 734 1498 Z" fill="#555"/>
  <text x="746" y="1516.3" font-family="Liberation Sans" font-weight="bold" font-size="8.6" fill="#666" text-anchor="middle" textLength="66" lengthAdjust="spacingAndGlyphs">CITROËN</text>
</svg>
<!-- FOOTER BAR -->
<div class="a" style="left:0;top:1524.8px;width:800px;height:26.2px;background:linear-gradient(#888 0,#888 92%,#909090 92%,#909090 100%)"></div>
<div class="a" style="left:0;top:1551px;width:800px;height:3.8px;background:#3d3d3f"></div>
<div class="a" style="left:0;top:1534.5px;font-size:12.5px;color:#111;text-decoration:underline">version</div>
<div class="a" style="left:42px;top:1531px;font-size:12.5px;color:#111;text-decoration:underline">Contact</div>
<!-- SAFARI BOTTOM -->
<div class="a" style="left:0;top:1554.8px;width:800px;height:178px;background:linear-gradient(#fff 0,#fff 2px,#f9f9fb 2px)"></div>
<svg class="a" style="left:270px;top:1580px" width="260" height="55" viewBox="270 1580 260 55">
  <path d="M302.5 1591 L286 1607.2 L302.5 1623.4" fill="none" stroke="#111" stroke-width="3" stroke-linecap="round" stroke-linejoin="round"/>
  <path d="M497.5 1591 L514 1607.2 L497.5 1623.4" fill="none" stroke="#a9a9ab" stroke-width="3" stroke-linecap="round" stroke-linejoin="round"/>
</svg>
<div class="a" style="left:257px;top:1704px;width:286px;height:10.8px;border-radius:5.4px;background:#000"></div>


</body></html>
